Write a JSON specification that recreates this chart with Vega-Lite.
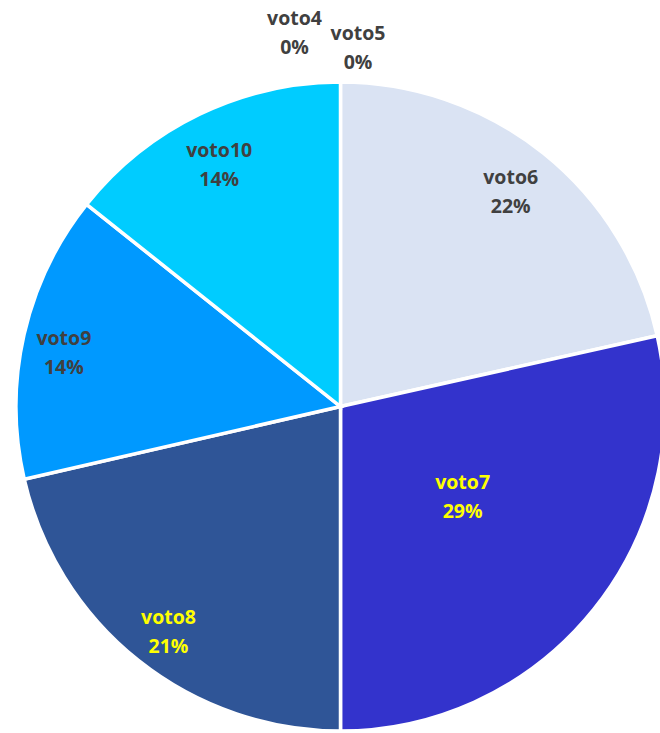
{
  "$schema": "https://vega.github.io/schema/vega-lite/v6.json",
  "width": 639,
  "height": 653,
  "autosize": {"type": "none"},
  "padding": {"left": 21, "top": 80, "right": 0, "bottom": 0},
  "background": "white",
  "view": {"stroke": null},
  "config": {"text": {"font": "Open Sans", "fontWeight": "bold", "fontSize": 19.5, "lineHeight": 29, "align": "center", "baseline": "middle"}},
  "data": {
    "values": [
      {"voto": "voto4", "ord": 1, "n": 0},
      {"voto": "voto5", "ord": 2, "n": 0},
      {"voto": "voto6", "ord": 3, "n": 21.5},
      {"voto": "voto7", "ord": 4, "n": 28.5},
      {"voto": "voto8", "ord": 5, "n": 21.4},
      {"voto": "voto9", "ord": 6, "n": 14.3},
      {"voto": "voto10", "ord": 7, "n": 14.3}
    ]
  },
  "transform": [
    {"calculate": "[datum.voto, round(datum.n) + '%']", "as": "lab"}
  ],
  "encoding": {
    "theta": {"field": "n", "type": "quantitative", "stack": true},
    "order": {"field": "ord", "type": "quantitative"},
    "detail": {"field": "voto", "type": "nominal"}
  },
  "layer": [
    {
      "mark": {"type": "arc", "outerRadius": 324.5, "stroke": "white", "strokeWidth": 3.5},
      "encoding": {
        "color": {
          "field": "voto",
          "type": "nominal",
          "legend": null,
          "scale": {
            "domain": ["voto4", "voto5", "voto6", "voto7", "voto8", "voto9", "voto10"],
            "range": ["#A5A5A5", "#FFC000", "#DAE3F3", "#3333CC", "#2F5597", "#0099FF", "#00CCFF"]
          }
        }
      }
    },
    {
      "mark": {"type": "text", "radius": 277, "dx": -3, "dy": -12, "color": "#404040"},
      "encoding": {"text": {"condition": {"test": "datum.voto == 'voto6'", "field": "lab"}, "value": ""}}
    },
    {
      "mark": {"type": "text", "radius": 152, "dx": 3.5, "dy": -18.5, "color": "#FFFF00"},
      "encoding": {"text": {"condition": {"test": "datum.voto == 'voto7'", "field": "lab"}, "value": ""}}
    },
    {
      "mark": {"type": "text", "radius": 277, "dx": 0.5, "dy": -5.5, "color": "#FFFF00"},
      "encoding": {"text": {"condition": {"test": "datum.voto == 'voto8'", "field": "lab"}, "value": ""}}
    },
    {
      "mark": {"type": "text", "radius": 277, "dx": -6.5, "dy": -6.5, "color": "#404040"},
      "encoding": {"text": {"condition": {"test": "datum.voto == 'voto9'", "field": "lab"}, "value": ""}}
    },
    {
      "mark": {"type": "text", "radius": 277, "dx": -1, "dy": -6, "color": "#404040"},
      "encoding": {"text": {"condition": {"test": "datum.voto == 'voto10'", "field": "lab"}, "value": ""}}
    },
    {
      "mark": {"type": "text", "radius": 375, "dx": -46, "dy": -13, "color": "#404040"},
      "encoding": {"text": {"condition": {"test": "datum.voto == 'voto4'", "field": "lab"}, "value": ""}}
    },
    {
      "mark": {"type": "text", "radius": 361, "dx": 17.5, "dy": -12, "color": "#404040"},
      "encoding": {"text": {"condition": {"test": "datum.voto == 'voto5'", "field": "lab"}, "value": ""}}
    }
  ]
}
